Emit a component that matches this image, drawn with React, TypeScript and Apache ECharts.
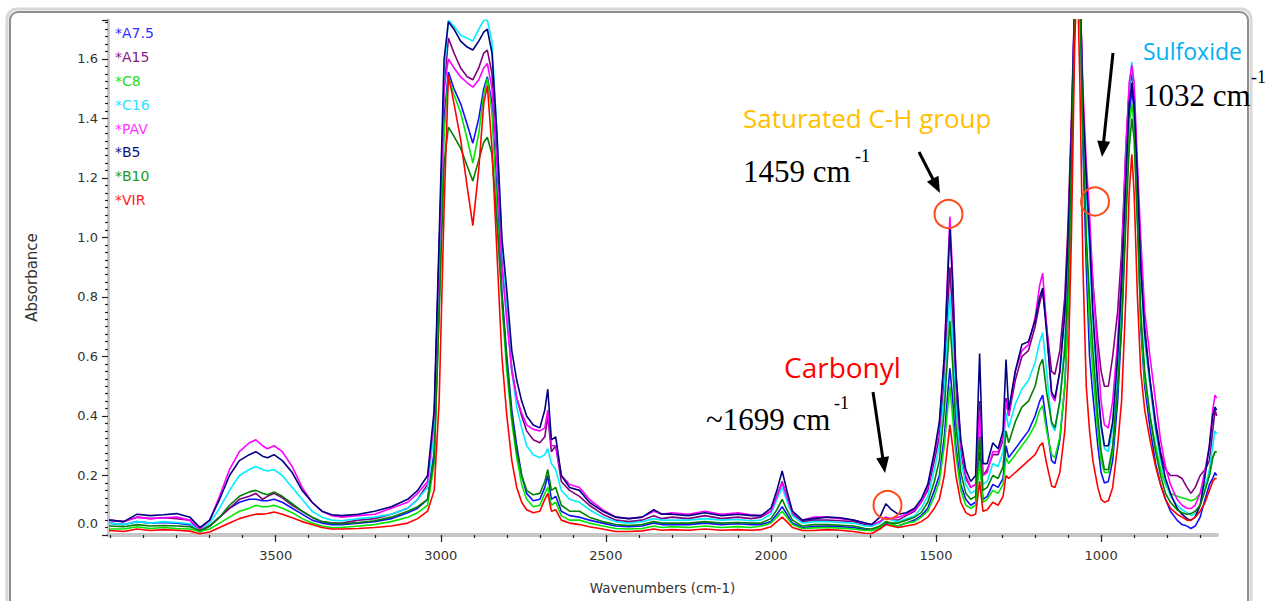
import React, { useEffect, useRef } from 'react';
import * as echarts from 'echarts';

const wavenumbers = [
  4005, 3960, 3920, 3880, 3840, 3800, 3760, 3730, 3700, 3670,
  3640, 3610, 3580, 3560, 3540, 3525, 3505, 3480, 3450, 3420,
  3390, 3360, 3330, 3300, 3250, 3200, 3150, 3100, 3070, 3040,
  3020, 3005, 2990, 2977, 2960, 2940, 2920, 2903, 2885, 2870,
  2859, 2845, 2830, 2815, 2800, 2785, 2770, 2755, 2740, 2720,
  2700, 2685, 2676, 2665, 2652, 2635, 2610, 2580, 2550, 2510,
  2470, 2430, 2390, 2355, 2330, 2300, 2250, 2200, 2150, 2100,
  2060, 2030, 2000, 1982, 1966, 1952, 1935, 1905, 1870, 1830,
  1790, 1750, 1715, 1695, 1670, 1652, 1635, 1615, 1590, 1565,
  1545, 1525, 1505, 1490, 1475, 1465, 1458, 1450, 1440, 1425,
  1410, 1395, 1380, 1368, 1358, 1345, 1328, 1312, 1297, 1288,
  1280, 1260, 1240, 1220, 1200, 1186, 1177, 1165, 1150, 1140,
  1125, 1110, 1100, 1090, 1080, 1072, 1064, 1055, 1045, 1035,
  1025, 1010, 1000, 990, 978, 965, 950, 938, 925, 915,
  907, 900, 890, 880, 868, 852, 835, 820, 805, 790,
  770, 755, 740, 728, 715, 700, 685, 672, 662, 655,
  650,
];

const A75 = [
  0.04, 0.035, 0.045, 0.04, 0.042, 0.04, 0.035, 0.015, 0.03, 0.06,
  0.09, 0.11, 0.12, 0.12, 0.115, 0.115, 0.12, 0.11, 0.09, 0.07,
  0.05, 0.04, 0.035, 0.035, 0.04, 0.045, 0.055, 0.075, 0.09, 0.12,
  0.28, 0.8, 1.4, 1.556, 1.5, 1.45, 1.38, 1.317, 1.4, 1.5,
  1.54, 1.45, 1.15, 0.82, 0.6, 0.42, 0.3, 0.2, 0.14, 0.115,
  0.12, 0.16, 0.2, 0.12, 0.13, 0.08, 0.065, 0.06, 0.05, 0.04,
  0.03, 0.028, 0.03, 0.04, 0.035, 0.035, 0.035, 0.04, 0.035, 0.038,
  0.035, 0.035, 0.045, 0.07, 0.095, 0.07, 0.04, 0.025, 0.028, 0.03,
  0.028, 0.025, 0.018, 0.015, 0.025, 0.04, 0.035, 0.03, 0.04, 0.05,
  0.065, 0.09, 0.15, 0.2, 0.33, 0.47, 0.56, 0.46, 0.3, 0.17,
  0.12, 0.1, 0.11, 0.28, 0.12, 0.13, 0.17, 0.16, 0.19, 0.3,
  0.26, 0.29, 0.32, 0.35, 0.4, 0.45, 0.47, 0.37, 0.25, 0.24,
  0.32, 0.5, 0.75, 1.15, 1.75, 1.9, 1.8, 1.3, 0.9, 0.6,
  0.47, 0.3, 0.21, 0.175, 0.18, 0.25, 0.45, 0.7, 1.1, 1.4,
  1.5, 1.42, 1.1, 0.7, 0.5, 0.36, 0.24, 0.17, 0.12, 0.08,
  0.05, 0.035, 0.03, 0.022, 0.03, 0.06, 0.12, 0.17, 0.19, 0.21,
  0.2,
];

const A15 = [
  0.05, 0.045, 0.06, 0.055, 0.058, 0.055, 0.05, 0.01, 0.03, 0.06,
  0.09, 0.12, 0.13, 0.14, 0.12, 0.13, 0.14, 0.125, 0.1, 0.08,
  0.06, 0.045, 0.04, 0.04, 0.05, 0.055, 0.07, 0.09, 0.12, 0.17,
  0.38, 0.95, 1.5, 1.67, 1.62, 1.57, 1.54, 1.53, 1.57, 1.62,
  1.63, 1.55, 1.3, 0.95, 0.75, 0.56, 0.46, 0.4, 0.35, 0.32,
  0.31, 0.33, 0.4, 0.28, 0.3, 0.18, 0.15, 0.13, 0.1, 0.07,
  0.05, 0.045, 0.05, 0.065, 0.055, 0.06, 0.055, 0.065, 0.055, 0.06,
  0.055, 0.06, 0.08, 0.13, 0.18, 0.13, 0.07, 0.045, 0.05, 0.05,
  0.048, 0.045, 0.035, 0.03, 0.045, 0.06, 0.05, 0.05, 0.065, 0.08,
  0.11, 0.15, 0.25, 0.33, 0.52, 0.75, 0.9, 0.74, 0.48, 0.28,
  0.19, 0.16, 0.17, 0.45, 0.2, 0.22, 0.27, 0.27, 0.32, 0.46,
  0.4, 0.52, 0.6, 0.62, 0.7, 0.78, 0.82, 0.7, 0.55, 0.54,
  0.62, 0.8, 1.05, 1.4, 1.8, 1.9, 1.85, 1.45, 1.2, 1.0,
  0.85, 0.65, 0.55, 0.5, 0.5, 0.6, 0.75, 0.95, 1.3, 1.5,
  1.55, 1.48, 1.2, 0.95, 0.7, 0.52, 0.38, 0.28, 0.22, 0.2,
  0.2, 0.19, 0.16, 0.14, 0.16, 0.2, 0.22, 0.25, 0.35, 0.42,
  0.4,
];

const C8 = [
  0.02, 0.02, 0.028, 0.022, 0.025, 0.022, 0.02, 0.012, 0.02, 0.04,
  0.06, 0.08, 0.09, 0.1, 0.095, 0.095, 0.1, 0.09, 0.075, 0.055,
  0.04, 0.03, 0.025, 0.025, 0.03, 0.035, 0.045, 0.06, 0.075, 0.1,
  0.24, 0.75, 1.35, 1.54, 1.48, 1.42, 1.33, 1.25, 1.35, 1.48,
  1.535, 1.42, 1.1, 0.78, 0.55, 0.38, 0.26, 0.17, 0.12, 0.095,
  0.1, 0.14, 0.16, 0.1, 0.11, 0.065, 0.05, 0.05, 0.04, 0.03,
  0.022, 0.02, 0.022, 0.03, 0.025, 0.028, 0.025, 0.03, 0.025, 0.028,
  0.025, 0.03, 0.04, 0.06, 0.08, 0.06, 0.035, 0.022, 0.024, 0.025,
  0.023, 0.02, 0.015, 0.015, 0.025, 0.045, 0.035, 0.03, 0.04, 0.045,
  0.06, 0.08, 0.13, 0.18, 0.3, 0.42, 0.5, 0.4, 0.27, 0.15,
  0.1, 0.09, 0.1, 0.25, 0.11, 0.12, 0.15, 0.14, 0.17, 0.26,
  0.24, 0.27, 0.3, 0.33, 0.37, 0.42, 0.435, 0.35, 0.27, 0.26,
  0.33, 0.5, 0.75, 1.2, 1.75, 1.9, 1.8, 1.35, 1.0, 0.7,
  0.55, 0.35, 0.25, 0.21, 0.21, 0.28, 0.5, 0.75, 1.15, 1.38,
  1.45, 1.38, 1.05, 0.72, 0.52, 0.4, 0.3, 0.22, 0.17, 0.14,
  0.13, 0.125, 0.12, 0.115, 0.12, 0.14, 0.17, 0.2, 0.26, 0.28,
  0.28,
];

const C16 = [
  0.04, 0.035, 0.045, 0.04, 0.045, 0.042, 0.038, 0.015, 0.04, 0.09,
  0.15, 0.2, 0.22, 0.23, 0.22, 0.215, 0.22, 0.2, 0.16, 0.12,
  0.08, 0.06, 0.05, 0.048, 0.055, 0.06, 0.07, 0.09, 0.12, 0.16,
  0.35, 0.9, 1.55, 1.73, 1.71, 1.68, 1.67, 1.66, 1.7, 1.73,
  1.73, 1.66, 1.35, 0.98, 0.75, 0.55, 0.43, 0.36, 0.3, 0.27,
  0.26, 0.27, 0.29, 0.24, 0.22, 0.15, 0.12, 0.11, 0.085, 0.06,
  0.045, 0.04, 0.045, 0.055, 0.05, 0.05, 0.05, 0.055, 0.05, 0.052,
  0.048, 0.05, 0.07, 0.12, 0.16, 0.115, 0.065, 0.04, 0.045, 0.045,
  0.042, 0.04, 0.03, 0.03, 0.04, 0.06, 0.05, 0.045, 0.055, 0.065,
  0.09, 0.13, 0.22, 0.3, 0.48, 0.68, 0.81, 0.66, 0.43, 0.25,
  0.17, 0.14, 0.15, 0.38, 0.17, 0.18, 0.24, 0.23, 0.28, 0.41,
  0.36, 0.44, 0.49, 0.52, 0.58, 0.65, 0.68, 0.55, 0.37, 0.35,
  0.45, 0.65, 0.9, 1.3, 1.78, 1.9, 1.82, 1.4, 1.15, 0.95,
  0.72, 0.47, 0.36, 0.29, 0.28, 0.36, 0.55, 0.85, 1.25, 1.5,
  1.59, 1.5, 1.2, 0.9, 0.65, 0.5, 0.35, 0.25, 0.18, 0.13,
  0.1, 0.085, 0.075, 0.066, 0.07, 0.1, 0.16, 0.22, 0.3, 0.35,
  0.34,
];

const PAV = [
  0.05, 0.045, 0.06, 0.055, 0.058, 0.06, 0.05, 0.02, 0.05, 0.13,
  0.22, 0.28, 0.31, 0.32, 0.3, 0.29, 0.3, 0.28, 0.23, 0.16,
  0.11, 0.08, 0.065, 0.06, 0.065, 0.07, 0.09, 0.11, 0.14, 0.18,
  0.4, 0.95, 1.5, 1.6, 1.57, 1.54, 1.52, 1.505, 1.53, 1.57,
  1.585, 1.5, 1.25, 0.9, 0.72, 0.55, 0.46, 0.41, 0.37, 0.355,
  0.35, 0.36, 0.42, 0.3, 0.3, 0.2, 0.17, 0.16, 0.12, 0.085,
  0.06, 0.055, 0.06, 0.08, 0.07, 0.075, 0.07, 0.08, 0.07, 0.075,
  0.068, 0.065, 0.08, 0.13, 0.175, 0.13, 0.075, 0.05, 0.06, 0.06,
  0.055, 0.05, 0.04, 0.035, 0.045, 0.06, 0.055, 0.06, 0.07, 0.085,
  0.11, 0.16, 0.27, 0.36, 0.6, 0.88, 1.07, 0.88, 0.55, 0.3,
  0.2, 0.16, 0.17, 0.42, 0.2, 0.21, 0.28, 0.28, 0.33, 0.45,
  0.4, 0.55, 0.62, 0.64, 0.73, 0.84, 0.88, 0.7, 0.47, 0.45,
  0.55, 0.75, 1.0, 1.35, 1.78, 1.9, 1.85, 1.5, 1.25, 1.08,
  0.85, 0.6, 0.45, 0.37, 0.36, 0.45, 0.65, 0.9, 1.3, 1.52,
  1.58, 1.52, 1.25, 1.0, 0.75, 0.6, 0.45, 0.32, 0.23, 0.17,
  0.12, 0.1, 0.09, 0.089, 0.1, 0.14, 0.22, 0.3, 0.42, 0.47,
  0.46,
];

const B5 = [
  0.05, 0.045, 0.07, 0.065, 0.068, 0.072, 0.06, 0.025, 0.05, 0.12,
  0.2, 0.25, 0.27, 0.28, 0.265, 0.26, 0.27, 0.25, 0.21, 0.15,
  0.11, 0.08, 0.068, 0.065, 0.07, 0.08, 0.095, 0.12, 0.15, 0.2,
  0.42, 1.0, 1.6, 1.725, 1.7, 1.66, 1.64, 1.63, 1.66, 1.69,
  1.7, 1.62, 1.35, 1.0, 0.82, 0.62, 0.52, 0.45, 0.4, 0.37,
  0.36, 0.42, 0.49, 0.32, 0.33, 0.2, 0.16, 0.15, 0.11, 0.08,
  0.06, 0.055, 0.06, 0.085, 0.07, 0.07, 0.065, 0.075, 0.065, 0.07,
  0.065, 0.065, 0.09, 0.15, 0.215, 0.15, 0.08, 0.05, 0.055, 0.06,
  0.058, 0.05, 0.04, 0.035, 0.06, 0.105, 0.085, 0.07, 0.075, 0.09,
  0.12, 0.17, 0.28, 0.38, 0.6, 0.85, 1.03, 0.85, 0.55, 0.32,
  0.22, 0.18, 0.2, 0.61, 0.24, 0.24, 0.31, 0.29, 0.35, 0.59,
  0.42, 0.55, 0.64, 0.65, 0.72, 0.8, 0.83, 0.68, 0.48, 0.46,
  0.55, 0.75, 1.0, 1.35, 1.8, 1.9, 1.85, 1.45, 1.2, 1.0,
  0.75, 0.5, 0.37, 0.3, 0.3, 0.38, 0.6, 0.85, 1.2, 1.45,
  1.52, 1.45, 1.2, 0.9, 0.68, 0.52, 0.37, 0.27, 0.19, 0.14,
  0.09, 0.07, 0.055, 0.05, 0.06, 0.1, 0.2, 0.3, 0.4, 0.43,
  0.42,
];

const B10 = [
  0.03, 0.028, 0.035, 0.03, 0.032, 0.03, 0.028, 0.015, 0.03, 0.06,
  0.1, 0.13, 0.145, 0.15, 0.14, 0.135, 0.145, 0.13, 0.105, 0.08,
  0.06, 0.045, 0.04, 0.038, 0.042, 0.048, 0.06, 0.08, 0.095, 0.12,
  0.26, 0.75, 1.25, 1.371, 1.34, 1.3, 1.24, 1.19, 1.26, 1.32,
  1.337, 1.28, 1.05, 0.8, 0.58, 0.4, 0.28, 0.2, 0.15, 0.135,
  0.14, 0.18, 0.22, 0.15, 0.16, 0.1, 0.08, 0.08, 0.06, 0.045,
  0.035, 0.032, 0.035, 0.045, 0.04, 0.04, 0.04, 0.045, 0.04, 0.042,
  0.04, 0.04, 0.055, 0.085, 0.12, 0.085, 0.05, 0.03, 0.035, 0.035,
  0.033, 0.03, 0.022, 0.02, 0.03, 0.045, 0.04, 0.04, 0.05, 0.06,
  0.075, 0.11, 0.18, 0.25, 0.42, 0.6, 0.72, 0.58, 0.37, 0.21,
  0.14, 0.12, 0.13, 0.33, 0.15, 0.16, 0.2, 0.19, 0.23, 0.35,
  0.31, 0.38, 0.43, 0.45, 0.5, 0.57, 0.59, 0.48, 0.38, 0.36,
  0.45, 0.62, 0.85, 1.25, 1.75, 1.9, 1.8, 1.35, 1.0, 0.8,
  0.62, 0.4, 0.28, 0.22, 0.22, 0.3, 0.5, 0.7, 1.05, 1.3,
  1.4, 1.33, 1.05, 0.75, 0.55, 0.4, 0.28, 0.2, 0.14, 0.11,
  0.085, 0.075, 0.07, 0.072, 0.08, 0.1, 0.15, 0.2, 0.26, 0.28,
  0.28,
];

const VIR = [
  0.015, 0.012, 0.02, 0.015, 0.018, 0.016, 0.013, 0.004, 0.01, 0.025,
  0.04, 0.055, 0.065, 0.07, 0.07, 0.072, 0.077, 0.07, 0.058, 0.045,
  0.035, 0.025, 0.02, 0.02, 0.022, 0.025, 0.03, 0.04, 0.055, 0.08,
  0.15, 0.45, 1.1, 1.545, 1.45, 1.33, 1.17, 1.04, 1.23, 1.45,
  1.511, 1.3, 0.95, 0.6, 0.4, 0.25, 0.16, 0.11, 0.085, 0.075,
  0.08, 0.12, 0.14, 0.08, 0.085, 0.05, 0.04, 0.035, 0.028, 0.02,
  0.012, 0.012, 0.014, 0.02, 0.016, 0.018, 0.016, 0.02, 0.016, 0.018,
  0.016, 0.018, 0.028, 0.045, 0.06, 0.045, 0.025, 0.015, 0.015, 0.018,
  0.016, 0.012, 0.006, 0.005, 0.02, 0.035, 0.03, 0.025, 0.03, 0.035,
  0.045, 0.06, 0.09, 0.12, 0.2, 0.3, 0.37, 0.3, 0.2, 0.11,
  0.075, 0.065, 0.07, 0.18, 0.08, 0.085, 0.11, 0.1, 0.13, 0.2,
  0.19, 0.21, 0.23, 0.25, 0.27, 0.3, 0.31, 0.24, 0.165, 0.16,
  0.21, 0.35, 0.55, 1.0, 1.65, 1.9, 1.5, 0.9, 0.5, 0.35,
  0.25, 0.16, 0.12, 0.11, 0.115, 0.16, 0.3, 0.45, 0.8, 1.15,
  1.28, 1.15, 0.8, 0.55, 0.42, 0.32, 0.23, 0.17, 0.12, 0.09,
  0.07, 0.06, 0.05, 0.049, 0.06, 0.08, 0.11, 0.15, 0.18, 0.19,
  0.19,
];

const seriesNames = ['*A7.5', '*A15', '*C8', '*C16', '*PAV', '*B5', '*B10', '*VIR'];
const seriesValues = [A75, A15, C8, C16, PAV, B5, B10, VIR];
const seriesColors = ['#1010ff', '#800080', '#00e600', '#00eeff', '#ff00ff', '#000080', '#008000', '#ff0000'];
const legendColors = ['#3030ff', '#8a208a', '#22dd22', '#33ddff', '#ff33ff', '#101080', '#229922', '#ff2020'];

const xLabelValues = [1000, 1500, 2000, 2500, 3000, 3500];
const xMinorTickValues = [
  700, 800, 900, 1000, 1100, 1200, 1300, 1400, 1500, 1600, 1700, 1800,
  1900, 2000, 2100, 2200, 2300, 2400, 2500, 2600, 2700, 2800, 2900, 3000,
  3100, 3200, 3300, 3400, 3500, 3600, 3700, 3800, 3900, 4000,
];

const AXIS_FONT = '"DejaVu Sans", sans-serif';
const SANS = '"Open Sans", sans-serif';
const SERIF = '"Liberation Serif", serif';

function buildOption() {
  const series = seriesValues.map((vals, k) => ({
    name: seriesNames[k],
    type: 'line',
    xAxisIndex: 0,
    yAxisIndex: 0,
    showSymbol: false,
    symbol: 'none',
    clip: true,
    lineStyle: { color: seriesColors[k], width: 1.6 },
    itemStyle: { color: seriesColors[k] },
    data: wavenumbers.map((w, i) => [w, vals[i]]),
  }));

  const legendTexts = seriesNames.map((n, k) => ({
    type: 'text',
    x: 115,
    y: 33.3 + k * 23.8,
    z: 50,
    style: {
      text: n,
      fill: legendColors[k],
      font: `14px ${AXIS_FONT}`,
      align: 'left',
      verticalAlign: 'middle',
      textAlign: 'left',
      textVerticalAlign: 'middle',
    },
  }));

  const txt = (text: string, x: number, y: number, fill: string, font: string) => ({
    type: 'text',
    x,
    y,
    z: 60,
    style: {
      text,
      fill,
      font,
      align: 'left',
      verticalAlign: 'middle',
      textAlign: 'left',
      textVerticalAlign: 'middle',
    },
  });

  const circle = (cx: number, cy: number) => ({
    type: 'circle',
    z: 60,
    shape: { cx, cy, r: 14 },
    style: { fill: 'none', stroke: '#ff4a1c', lineWidth: 2 },
  });

  const arrow = (sx: number, sy: number, tx: number, ty: number) => {
    const dx = tx - sx;
    const dy = ty - sy;
    const len = Math.sqrt(dx * dx + dy * dy);
    const ux = dx / len;
    const uy = dy / len;
    const hl = 16;
    const hw = 6.5;
    const bx = tx - ux * hl;
    const by = ty - uy * hl;
    const nx = -uy;
    const ny = ux;
    return [
      {
        type: 'line',
        z: 60,
        shape: { x1: sx, y1: sy, x2: bx + ux * 2, y2: by + uy * 2 },
        style: { stroke: '#000', lineWidth: 3 },
      },
      {
        type: 'polygon',
        z: 60,
        shape: {
          points: [
            [tx, ty],
            [bx + nx * hw, by + ny * hw],
            [bx - nx * hw, by - ny * hw],
          ],
        },
        style: { fill: '#000' },
      },
    ];
  };

  const frame = [
    {
      type: 'rect',
      z: 1,
      shape: { x: 7, y: 9, width: 1244, height: 640, r: 10 },
      style: { fill: 'none', stroke: '#d8d8d8', lineWidth: 3 },
    },
    {
      type: 'rect',
      z: 1,
      shape: { x: 10, y: 12, width: 1238, height: 640, r: 8 },
      style: { fill: 'none', stroke: '#8e8e8e', lineWidth: 2 },
    },
  ];

  const annotations = [
    txt('Saturated C-H group', 743, 118, '#ffc000', `26px ${SANS}`),
    txt('1459 cm', 743, 171, '#000', `31px ${SERIF}`),
    txt('-1', 855, 156, '#000', `18px ${SERIF}`),
    txt('Carbonyl', 784, 366.5, '#ff0000', `28px ${SANS}`),
    txt('~1699 cm', 706, 419.7, '#000', `31px ${SERIF}`),
    txt('-1', 834, 403, '#000', `18px ${SERIF}`),
    txt('Sulfoxide', 1143, 51.3, '#00b0f0', `23px ${SANS}`),
    txt('1032 cm', 1143, 95, '#000', `31px ${SERIF}`),
    txt('-1', 1251, 76.7, '#000', `18px ${SERIF}`),
    circle(948.5, 214),
    circle(887.5, 505),
    circle(1095, 201.5),
    ...arrow(919, 152, 940, 193),
    ...arrow(1113, 53, 1102, 157),
    ...arrow(873, 392, 885, 473),
  ];

  return {
    animation: false,
    backgroundColor: '#ffffff',
    grid: { left: 108, right: 61, top: 20, bottom: 66 },
    xAxis: [
      {
        type: 'value',
        inverse: true,
        min: 649,
        max: 4008,
        position: 'bottom',
        axisLine: { show: true, onZero: false, lineStyle: { color: '#c6c6c6', width: 4 } },
        axisTick: {
          show: true,
          customValues: xMinorTickValues,
          length: 3,
          lineStyle: { color: '#222', width: 1.2 },
        },
        axisLabel: { show: false },
        splitLine: { show: false },
      },
      {
        type: 'value',
        inverse: true,
        min: 649,
        max: 4008,
        position: 'bottom',
        axisLine: { show: false, onZero: false },
        axisTick: {
          show: true,
          customValues: xLabelValues,
          length: 7,
          lineStyle: { color: '#222', width: 1.2 },
        },
        axisLabel: {
          show: true,
          customValues: xLabelValues,
          margin: 14,
          color: '#333',
          fontSize: 13,
          fontFamily: AXIS_FONT,
          formatter: (v: number) => String(v),
        },
        splitLine: { show: false },
        name: 'Wavenumbers (cm-1)',
        nameLocation: 'middle',
        nameGap: 46,
        nameTextStyle: { color: '#333', fontSize: 13.5, fontFamily: AXIS_FONT },
      },
    ],
    yAxis: {
      type: 'value',
      min: 0,
      max: 1.731,
      interval: 0.2,
      axisLine: { show: true, lineStyle: { color: '#c6c6c6', width: 3 } },
      axisTick: { show: true, length: 6, lineStyle: { color: '#222', width: 1.2 } },
      minorTick: { show: true, splitNumber: 8, length: 3, lineStyle: { color: '#222', width: 1.2 } },
      splitLine: { show: false },
      minorSplitLine: { show: false },
      axisLabel: {
        margin: 10,
        color: '#333',
        fontSize: 13,
        fontFamily: AXIS_FONT,
        showMaxLabel: false,
        formatter: (v: number) => (Math.abs(v) < 1e-9 ? '{z|0.0}' : v.toFixed(1)),
        rich: {
          z: { color: '#333', fontSize: 13, fontFamily: AXIS_FONT, padding: [0, 0, 23, 0] },
        },
      },
      name: 'Absorbance',
      nameLocation: 'middle',
      nameGap: 69,
      nameTextStyle: { color: '#333', fontSize: 15, fontFamily: AXIS_FONT },
    },
    series,
    graphic: { elements: [...frame, ...legendTexts, ...annotations] },
  };
}

export default function App() {
  const ref = useRef<HTMLDivElement>(null);
  useEffect(() => {
    if (!ref.current) return;
    const chart = echarts.init(ref.current, null, { renderer: 'svg' });
    chart.setOption(buildOption() as any);
    return () => {
      chart.dispose();
    };
  }, []);
  return (
    <div
      ref={ref}
      style={{ position: 'absolute', left: 0, top: 0, width: 1278, height: 601, background: '#fff' }}
    />
  );
}
